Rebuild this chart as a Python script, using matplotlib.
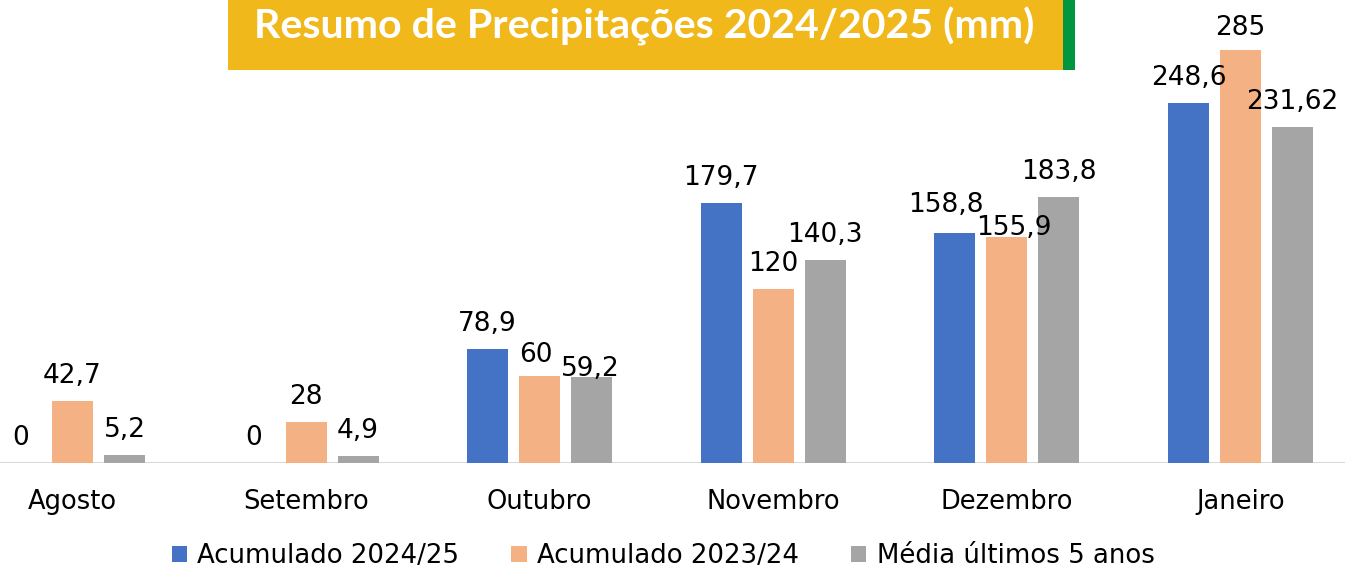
import matplotlib
matplotlib.use("Agg")
import matplotlib.pyplot as plt
from matplotlib.patches import Rectangle, Patch
import numpy as np

categories = ["Agosto", "Setembro", "Outubro", "Novembro", "Dezembro", "Janeiro"]
acum_2024_25 = [0, 0, 78.9, 179.7, 158.8, 248.6]
acum_2023_24 = [42.7, 28, 60, 120, 155.9, 285]
media_5_anos = [5.2, 4.9, 59.2, 140.3, 183.8, 231.62]
series_names = ["Acumulado 2024/25", "Acumulado 2023/24", "Média últimos 5 anos"]
series_labels = [
    ["0", "0", "78,9", "179,7", "158,8", "248,6"],
    ["42,7", "28", "60", "120", "155,9", "285"],
    ["5,2", "4,9", "59,2", "140,3", "183,8", "231,62"],
]
title = "Resumo de Precipitações 2024/2025 (mm)"

# style: label nudges in pixels (series, category) -> (dx, dy)
label_nudges = {(0, 4): (-9.5, 3), (1, 4): (6.5, -16), (2, 2): (-1.5, -17),
                (1, 2): (-3.5, -4), (1, 5): (0, -3)}

colors = ["#4472C4", "#F4B183", "#A5A5A5"]
FONT = "DejaVu Sans"
FS = 19

W, H = 1345, 570
PX = 72 / 100  # points per pixel
fig = plt.figure(figsize=(W / 100, H / 100), dpi=100)
ax = fig.add_axes([0, 107 / H, 1, 1 - 107 / H])
ax.set_facecolor("none")

x = np.arange(len(categories))
step = 233.6
ax.set_xlim(-72.5 / step, (W - 72.5) / step)
ax.set_ylim(0, 463 / 1.449)

bw = 41 / step
off = 52 / step
for i, (vals, labs) in enumerate(zip([acum_2024_25, acum_2023_24, media_5_anos], series_labels)):
    pos = x + (i - 1) * off
    ax.bar(pos, vals, width=bw, color=colors[i], zorder=2)
    for j, (p, v, l) in enumerate(zip(pos, vals, labs)):
        dx, dy = label_nudges.get((i, j), (0, 0))
        ax.annotate(l, (p, v), xytext=(dx * PX, (18 + dy) * PX), textcoords="offset points",
                    ha="center", va="baseline", fontsize=FS, family=FONT, color="#000000")

ax.axhline(0, color="#D9D9D9", lw=1.5, zorder=1)
for s in ax.spines.values():
    s.set_visible(False)
ax.set_yticks([])
ax.set_xticks(x)
ax.set_xticklabels(categories, family=FONT, fontsize=18.5)
ax.tick_params(axis="x", length=0, pad=18.5)

# title box
fig.patches.append(Rectangle((228 / W, 1 - 70 / H), (1063 - 228) / W, 70 / H,
                             transform=fig.transFigure, facecolor="#F0B81A", edgecolor="none"))
fig.patches.append(Rectangle((1063 / W, 1 - 70 / H), 12 / W, 70 / H,
                             transform=fig.transFigure, facecolor="#00953F", edgecolor="none"))
fig.text(644 / W, 1 - 38 / H, title, ha="center", va="baseline", color="white",
         fontsize=29.6, fontweight="bold", family="Lato")

handles = [Patch(facecolor=c, edgecolor="none") for c in colors]
fig.legend(handles, series_names, loc="center", bbox_to_anchor=(663 / W, 14 / H),
           ncol=3, frameon=False, prop={"family": FONT, "size": 18.7},
           handlelength=0.6, handleheight=0.6, handletextpad=0.39, columnspacing=2.0,
           borderpad=0, borderaxespad=0)

fig.savefig("out.png", dpi=100)
